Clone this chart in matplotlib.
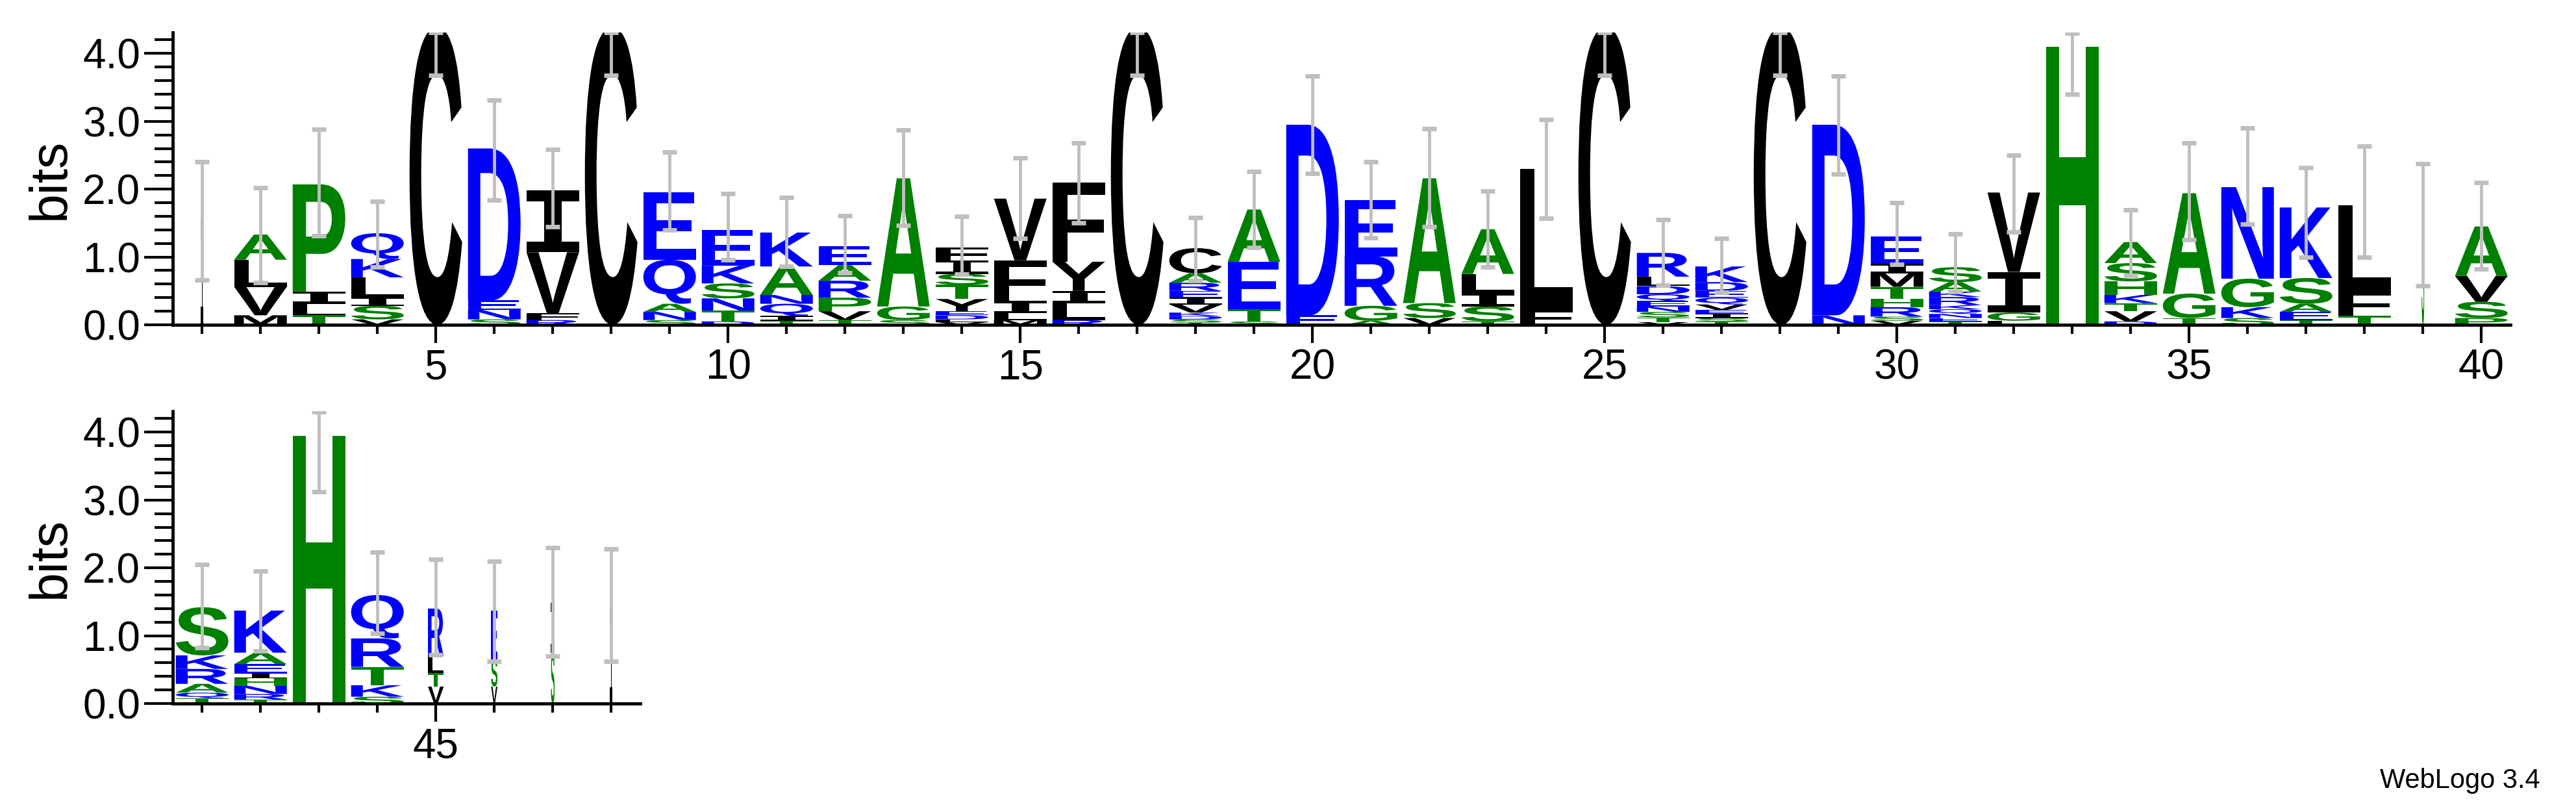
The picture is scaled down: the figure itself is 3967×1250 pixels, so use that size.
import numpy as np
from matplotlib import pyplot as plt
from matplotlib.font_manager import FontProperties
from matplotlib.textpath import TextPath
from matplotlib.patches import PathPatch
from matplotlib.transforms import Affine2D
from matplotlib.ticker import MultipleLocator, FuncFormatter

# letter stacks, bottom to top: (letter, height in bits)
stacks = [
    [('I', 1.54)],
    [('M', .14), ('V', .42), ('L', .40), ('A', .37)],
    [('T', .14), ('L', .17), ('I', .18), ('P', 1.58)],
    [('V', .08), ('S', .20), ('I', .12), ('L', .30), ('K', .27), ('Q', .38)],
    [('C', 4.39)],
    [('S', .08), ('N', .14), ('E', .14), ('D', 2.24)],
    [('R', .07), ('F', .10), ('V', .90), ('I', .91)],
    [('C', 4.39)],
    [('S', .07), ('N', .12), ('A', .12), ('Q', .65), ('E', .99)],
    [('D', .05), ('T', .16), ('N', .18), ('S', .22), ('K', .26), ('E', .53)],
    [('T', .06), ('I', .07), ('Q', .18), ('N', .13), ('A', .42), ('K', .50)],
    [('T', .07), ('V', .13), ('P', .20), ('R', .25), ('A', .23), ('E', .28)],
    [('S', .07), ('G', .20), ('A', 1.89)],
    [('V', .04), ('L', .04), ('D', .06), ('E', .06), ('Y', .18), ('T', .21),
     ('S', .16), ('I', .20), ('F', .19)],
    [('M', .07), ('L', .10), ('I', .18), ('F', .60), ('V', .91)],
    [('R', .07), ('L', .25), ('I', .18), ('Y', .43), ('F', 1.17)],
    [('C', 4.39)],
    [('T', .03), ('S', .05), ('D', .05), ('K', .05), ('V', .12), ('I', .10),
     ('E', .10), ('R', .12), ('A', .14), ('C', .37)],
    [('S', .05), ('T', .18), ('E', .70), ('A', .77)],
    [('E', .14), ('D', 2.81)],
    [('A', .06), ('G', .22), ('R', .73), ('E', .83)],
    [('V', .10), ('S', .22), ('A', 1.84)],
    [('T', .05), ('S', .22), ('I', .20), ('L', .28), ('A', .66)],
    [('F', .22), ('L', 2.08)],
    [('C', 4.39)],
    [('V', .04), ('T', .07), ('S', .08), ('N', .08), ('E', .08), ('Q', .10),
     ('D', .12), ('L', .14), ('R', .35)],
    [('T', .05), ('S', .05), ('I', .06), ('E', .06), ('V', .08), ('Q', .10),
     ('E', .10), ('D', .13), ('K', .23)],
    [('C', 4.39)],
    [('N', .14), ('D', 2.81)],
    [('V', .06), ('S', .06), ('R', .14), ('H', .12), ('T', .18), ('M', .20),
     ('I', .14), ('E', .40)],
    [('T', .05), ('E', .05), ('N', .06), ('Q', .07), ('K', .06), ('R', .12),
     ('K', .08), ('A', .14), ('S', .22)],
    [('L', .06), ('G', .12), ('I', .60), ('V', 1.17)],
    [('H', 4.10)],
    [('D', .05), ('V', .15), ('T', .12), ('K', .12), ('H', .20), ('S', .27), ('A', .31)],
    [('T', .10), ('G', .36), ('A', 1.48)],
    [('S', .10), ('K', .16), ('G', .42), ('N', 1.35)],
    [('T', .07), ('E', .12), ('A', .12), ('S', .38), ('K', 1.04)],
    [('T', .13), ('F', .36), ('L', 1.27)],
    [('S', 1.45)],
    [('P', .10), ('S', .24), ('V', .38), ('A', .73)],
    [('T', .08), ('Q', .08), ('A', .13), ('R', .22), ('K', .20), ('S', .71)],
    [('T', .06), ('R', .08), ('N', .12), ('H', .11), ('I', .08), ('E', .13),
     ('A', .17), ('K', .62)],
    [('H', 3.95)],
    [('S', .10), ('K', .17), ('T', .27), ('R', .42), ('Q', .64)],
    [('V', .25), ('T', .20), ('L', .25), ('R', .70)],
    [('V', .25), ('S', .40), ('E', .72)],
    [('S', .75), ('I', .73)],
    [('I', 1.40)],
]

# fraction of the column width each position occupies
col_width = [0.05] + [1.0] * 37 + [0.05, 1.0] + [1.0] * 4 + [0.3, 0.12, 0.07, 0.05]

err_lo = [0.66, 0.62, 1.31, 0.85, 3.68, 1.84, 1.45, 3.68, 1.40, 0.96,
          0.86, 0.77, 1.47, 0.75, 1.27, 1.50, 3.68, 0.65, 1.14, 2.23,
          1.28, 1.45, 0.85, 1.57, 3.68, 0.58, 0.48, 3.68, 2.22, 0.89,
          0.49, 1.37, 3.40, 0.73, 1.25, 1.48, 1.00, 1.00, 0.57, 0.82,
          0.82, 0.78, 3.12, 1.03, 0.72, 0.62, 0.70, 0.62]
err_hi = [2.40, 2.02, 2.88, 1.82, 4.31, 3.31, 2.59, 4.31, 2.55, 1.93,
          1.88, 1.61, 2.87, 1.60, 2.46, 2.68, 4.31, 1.58, 2.26, 3.67,
          2.40, 2.89, 1.97, 3.03, 4.31, 1.55, 1.27, 4.31, 3.67, 1.80,
          1.34, 2.50, 4.30, 1.70, 2.68, 2.90, 2.32, 2.63, 2.38, 2.10,
          2.05, 1.95, 4.30, 2.23, 2.13, 2.10, 2.30, 2.28]

BLUE, GREEN, BLACK = '#0000ff', '#008000', '#000000'
colors = {}
for aa in 'DEKRNQ':
    colors[aa] = BLUE
for aa in 'ASTGPH':
    colors[aa] = GREEN
for aa in 'CVLIFYMW':
    colors[aa] = BLACK

font = FontProperties(family='Liberation Sans', weight='bold')
font_i = FontProperties(family='DejaVu Sans Mono', weight='bold')


def draw_letter(ax, letter, x, y0, w, h):
    prop = font_i if letter == 'I' else font
    tp = TextPath((0, 0), letter, size=1, prop=prop)
    ext = tp.get_extents()
    tr = (Affine2D().translate(-ext.x0, -ext.y0)
          .scale(w / ext.width, h / ext.height)
          .translate(x - w / 2, y0))
    path = tr.transform_path(tp)
    ax.add_patch(PathPatch(path, facecolor=colors[letter], edgecolor='none'))


def draw_logo(ax, first, last):
    for pos in range(first, last + 1):
        i = pos - 1
        w = 0.9 * col_width[i]
        y = 0.0
        for letter, h in stacks[i]:
            draw_letter(ax, letter, pos, y, w, h)
            y += h
        ax.vlines(pos, err_lo[i], err_hi[i], color='#bfbfbf', lw=3.5, zorder=3)
        ax.hlines([err_lo[i], err_hi[i]], pos - 0.12, pos + 0.12,
                  color='#bfbfbf', lw=5, zorder=3)

    ax.set_xlim(first - 0.5, last + 0.5)
    ax.set_ylim(0, 4.31)
    for side in ['top', 'right']:
        ax.spines[side].set_visible(False)
    ax.spines['left'].set_linewidth(3.5)
    ax.spines['bottom'].set_linewidth(3.5)
    ax.yaxis.set_major_locator(MultipleLocator(1.0))
    ax.yaxis.set_minor_locator(MultipleLocator(0.2))
    ax.yaxis.set_major_formatter(FuncFormatter(lambda v, p: f"{v:.1f}"))
    ax.xaxis.set_major_locator(MultipleLocator(5))
    ax.xaxis.set_minor_locator(MultipleLocator(1))
    ax.tick_params(axis='y', which='major', length=32, width=3, labelsize=46, pad=4)
    ax.tick_params(axis='y', which='minor', length=20, width=3)
    ax.tick_params(axis='x', which='major', length=20, width=3, labelsize=46, pad=6)
    ax.tick_params(axis='x', which='minor', length=10, width=3)
    ax.set_ylabel('bits', fontsize=58, labelpad=8)


plt.rcParams['font.family'] = ['Liberation Sans', 'DejaVu Sans']

fig = plt.figure(figsize=(39.67, 12.5), dpi=100)
ax1 = fig.add_axes([0.0671, 0.6, 0.9075, 0.36])
ax2 = fig.add_axes([0.0671, 0.1336, 0.1815, 0.36])
draw_logo(ax1, 1, 40)
draw_logo(ax2, 41, 48)

fig.text(0.986, 0.022, 'WebLogo 3.4', ha='right', va='bottom', fontsize=30)

fig.savefig('out.png', dpi=100)
